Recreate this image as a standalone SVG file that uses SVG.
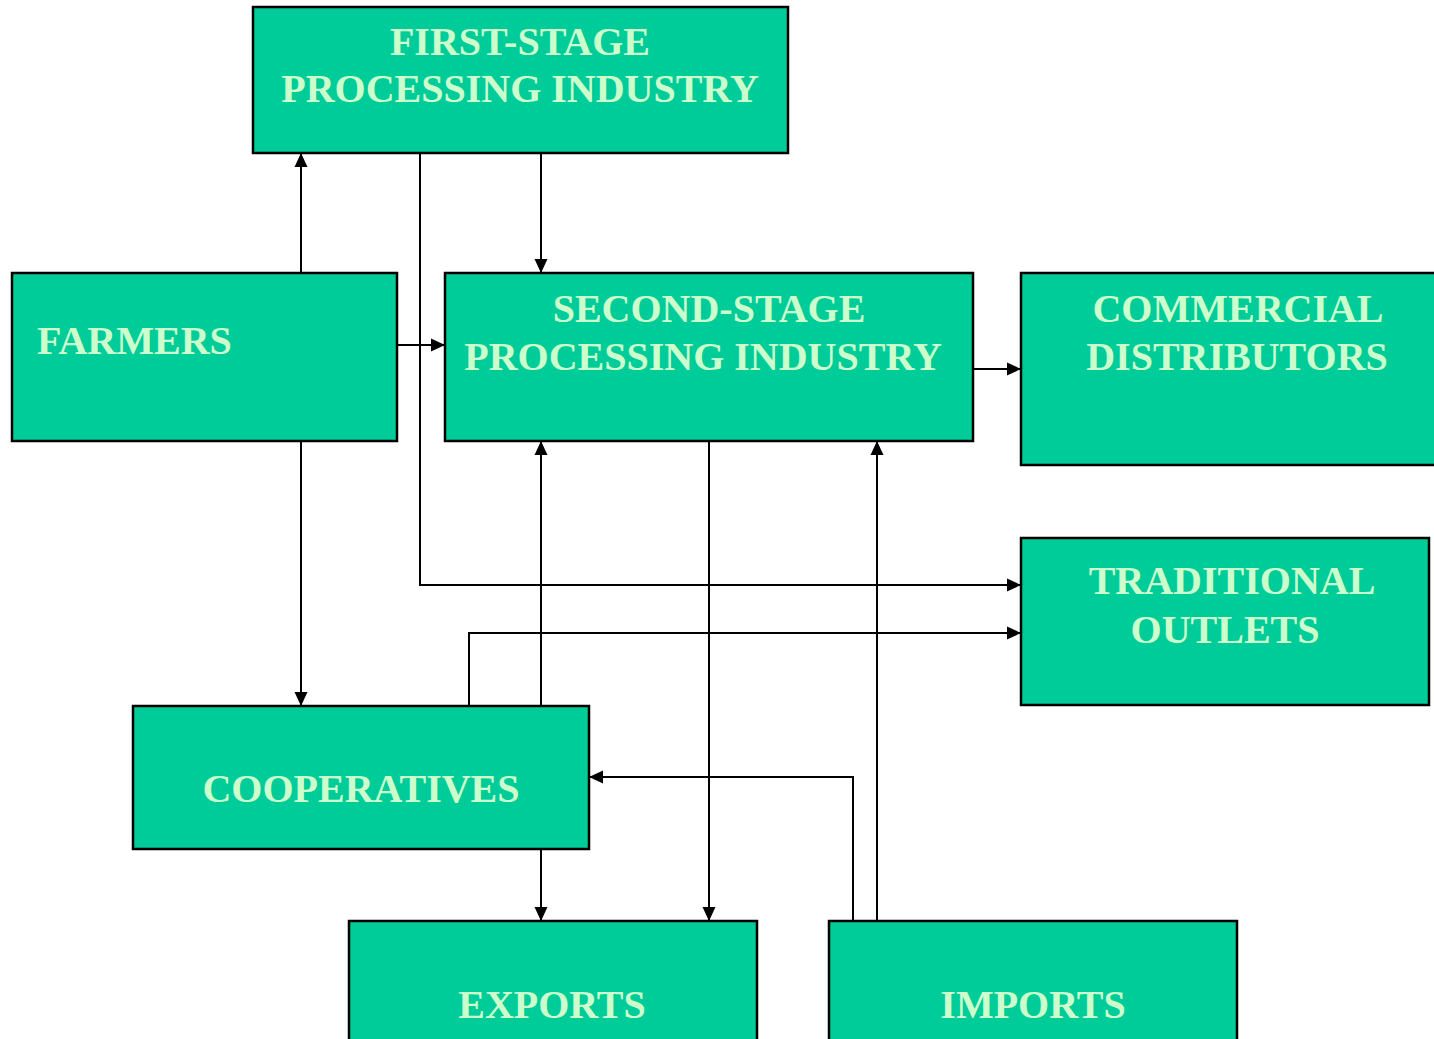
<svg xmlns="http://www.w3.org/2000/svg" width="1434" height="1039" viewBox="0 0 1434 1039">
<style>
.box{fill:#00CC99;stroke:#000;stroke-width:2.5}
.lbl{font-family:"Liberation Serif","Times New Roman",serif;font-weight:bold;font-size:40px;fill:#CCFFCC;text-anchor:middle}
.ln{fill:none;stroke:#000;stroke-width:2;marker-end:url(#ah)}
</style>
<defs>
<marker id="ah" viewBox="0 0 14 14" refX="14" refY="7" markerWidth="14" markerHeight="14" markerUnits="userSpaceOnUse" orient="auto">
<path d="M0,0.5 L14,7 L0,13.5 z" fill="#000"/>
</marker>
</defs>
<rect width="1434" height="1039" fill="#fff"/>
<g id="connectors">
<path class="ln" d="M301,273 V153"/>
<path class="ln" d="M420,153 V585 H1021"/>
<path class="ln" d="M541,153 V273"/>
<path class="ln" d="M397,345 H445"/>
<path class="ln" d="M973,369 H1021"/>
<path class="ln" d="M301,441 V706"/>
<path class="ln" d="M469,706 V633 H1021"/>
<path class="ln" d="M541,706 V441"/>
<path class="ln" d="M709,441 V921"/>
<path class="ln" d="M541,849 V921"/>
<path class="ln" d="M853,921 V777 H589"/>
<path class="ln" d="M877,921 V441"/>
</g>
<g id="first-stage">
<rect class="box" x="253" y="7" width="535" height="146"/>
<text class="lbl" x="520" y="55">FIRST-STAGE</text>
<text class="lbl" x="520" y="102">PROCESSING INDUSTRY</text>
</g>
<g id="farmers">
<rect class="box" x="12" y="273" width="385" height="168"/>
<text class="lbl" x="37" y="354" style="text-anchor:start">FARMERS</text>
</g>
<g id="second-stage">
<rect class="box" x="445" y="273" width="528" height="168"/>
<text class="lbl" x="709" y="322">SECOND-STAGE</text>
<text class="lbl" x="703" y="370">PROCESSING INDUSTRY</text>
</g>
<g id="commercial">
<rect class="box" x="1021" y="273" width="420" height="192"/>
<text class="lbl" x="1238" y="322">COMMERCIAL</text>
<text class="lbl" x="1237" y="370">DISTRIBUTORS</text>
</g>
<g id="traditional">
<rect class="box" x="1021" y="538" width="408" height="167"/>
<text class="lbl" x="1232" y="594">TRADITIONAL</text>
<text class="lbl" x="1225" y="643">OUTLETS</text>
</g>
<g id="cooperatives">
<rect class="box" x="133" y="706" width="456" height="143"/>
<text class="lbl" x="361" y="802">COOPERATIVES</text>
</g>
<g id="exports">
<rect class="box" x="349" y="921" width="408" height="130"/>
<text class="lbl" x="552" y="1018">EXPORTS</text>
</g>
<g id="imports">
<rect class="box" x="829" y="921" width="408" height="130"/>
<text class="lbl" x="1033" y="1018">IMPORTS</text>
</g>
</svg>
